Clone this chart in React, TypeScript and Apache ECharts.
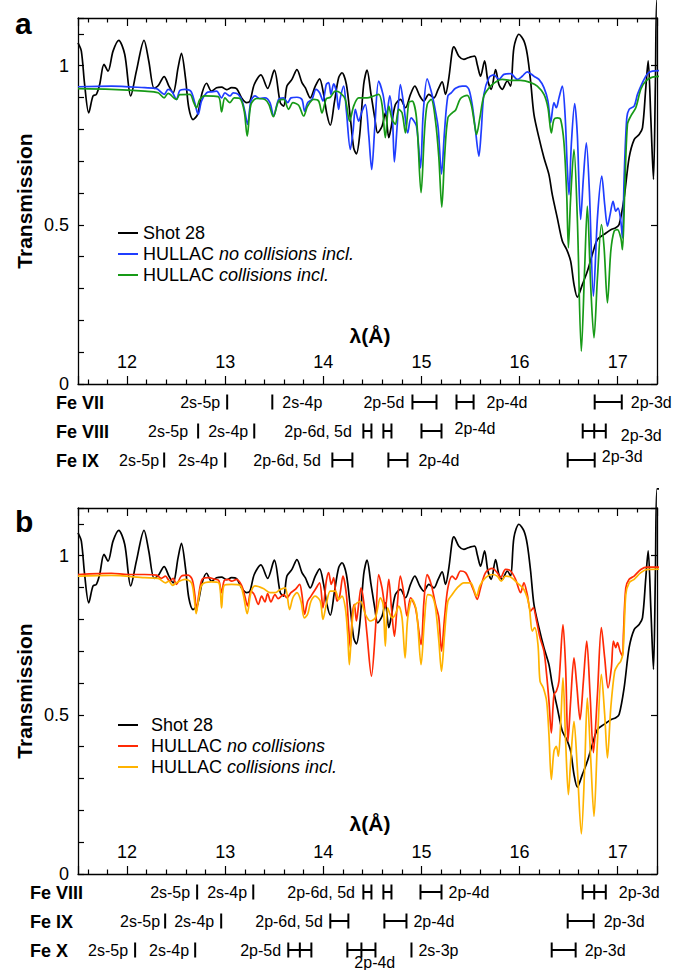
import React, { useEffect, useRef } from "react";
import * as echarts from "echarts";

const FONT = '"Liberation Sans", Arial, Helvetica, sans-serif';

// Axis ranges
const lambdaRange = [11.5, 17.4];
const transRange = [0, 1.15];
const transLabelValues = [0, 0.5, 1];

// ---- Series data: [wavelength (Å), transmission] ----
const shot28 = [[11.5,1.072],[11.534,1.046],[11.568,0.94],[11.609,0.852],[11.653,0.905],[11.687,0.91],[11.72,0.94],[11.765,1.004],[11.806,0.983],[11.857,1.046],[11.915,1.08],[11.976,1.036],[12.037,0.905],[12.095,0.983],[12.173,1.08],[12.221,1.015],[12.276,0.929],[12.316,0.937],[12.378,0.966],[12.425,0.937],[12.469,0.915],[12.52,0.994],[12.554,1.039],[12.595,0.962],[12.629,0.868],[12.673,0.831],[12.718,0.847],[12.765,0.915],[12.81,0.945],[12.86,0.92],[12.912,0.931],[12.963,0.933],[13.014,0.925],[13.065,0.931],[13.116,0.928],[13.167,0.899],[13.218,0.884],[13.252,0.889],[13.296,0.941],[13.364,0.971],[13.432,0.929],[13.5,0.986],[13.561,0.884],[13.595,0.873],[13.629,0.936],[13.68,0.957],[13.731,0.988],[13.782,0.947],[13.816,0.931],[13.867,0.899],[13.918,0.936],[13.962,0.959],[14.003,0.91],[14.037,0.847],[14.071,0.813],[14.112,0.884],[14.156,0.962],[14.19,0.978],[14.235,0.941],[14.275,0.836],[14.309,0.742],[14.337,0.723],[14.371,0.784],[14.411,0.941],[14.445,0.986],[14.486,0.91],[14.524,0.836],[14.554,0.789],[14.598,0.81],[14.632,0.852],[14.667,0.774],[14.69,0.805],[14.734,0.878],[14.785,0.894],[14.837,0.868],[14.888,0.91],[14.932,0.936],[14.983,0.905],[15.024,0.889],[15.075,0.91],[15.126,0.899],[15.17,0.926],[15.211,0.949],[15.245,0.91],[15.279,0.962],[15.313,1.046],[15.33,1.059],[15.381,1.03],[15.432,1.02],[15.475,1.025],[15.541,1.03],[15.568,1.004],[15.602,0.967],[15.643,1.015],[15.677,0.952],[15.711,0.926],[15.755,0.988],[15.789,0.941],[15.823,0.926],[15.874,0.952],[15.908,0.936],[15.942,1.057],[15.993,1.099],[16.044,1.078],[16.078,1.036],[16.112,0.952],[16.146,0.847],[16.197,0.774],[16.248,0.711],[16.299,0.658],[16.333,0.595],[16.384,0.522],[16.435,0.449],[16.48,0.422],[16.52,0.386],[16.554,0.313],[16.588,0.273],[16.64,0.313],[16.69,0.354],[16.741,0.407],[16.793,0.454],[16.861,0.47],[16.929,0.485],[16.98,0.491],[17.014,0.501],[17.065,0.585],[17.116,0.711],[17.167,0.768],[17.218,0.784],[17.252,0.805],[17.286,0.931],[17.31,1.015],[17.337,0.836],[17.364,0.643],[17.384,0.95],[17.4,1.21],[17.43,1.21],[17.45,0.66],[17.47,0.7]];

const hullacNoCollA = [[11.5,0.934],[11.84,0.936],[12.18,0.931],[12.3,0.928],[12.378,0.91],[12.418,0.926],[12.459,0.918],[12.503,0.894],[12.537,0.922],[12.588,0.926],[12.65,0.92],[12.69,0.884],[12.724,0.847],[12.759,0.889],[12.81,0.915],[12.86,0.918],[12.912,0.92],[12.963,0.899],[12.997,0.915],[13.048,0.905],[13.082,0.915],[13.133,0.91],[13.173,0.889],[13.2,0.857],[13.228,0.816],[13.262,0.889],[13.303,0.905],[13.354,0.897],[13.405,0.899],[13.456,0.884],[13.493,0.842],[13.544,0.894],[13.595,0.899],[13.636,0.884],[13.67,0.899],[13.731,0.901],[13.782,0.894],[13.809,0.857],[13.84,0.884],[13.884,0.894],[13.925,0.926],[13.962,0.915],[13.996,0.889],[14.03,0.941],[14.054,0.947],[14.078,0.91],[14.105,0.943],[14.132,0.92],[14.156,0.863],[14.173,0.899],[14.207,0.936],[14.235,0.857],[14.275,0.737],[14.303,0.795],[14.326,0.863],[14.36,0.826],[14.394,0.857],[14.428,0.878],[14.462,0.784],[14.493,0.674],[14.524,0.805],[14.564,0.952],[14.608,0.91],[14.643,0.847],[14.677,0.905],[14.704,0.836],[14.724,0.698],[14.751,0.805],[14.785,0.941],[14.819,0.878],[14.86,0.789],[14.894,0.836],[14.949,0.81],[14.99,0.679],[15.017,0.847],[15.058,0.959],[15.099,0.92],[15.133,0.873],[15.17,0.805],[15.204,0.66],[15.235,0.795],[15.269,0.905],[15.303,0.915],[15.347,0.929],[15.415,0.936],[15.449,0.936],[15.483,0.926],[15.517,0.878],[15.551,0.795],[15.585,0.716],[15.609,0.795],[15.636,0.91],[15.687,0.962],[15.738,0.971],[15.789,0.957],[15.84,0.973],[15.908,0.975],[15.976,0.957],[16.027,0.967],[16.078,0.981],[16.146,0.967],[16.197,0.957],[16.248,0.931],[16.289,0.889],[16.316,0.821],[16.35,0.884],[16.374,0.868],[16.401,0.899],[16.435,0.936],[16.463,0.847],[16.486,0.679],[16.503,0.595],[16.527,0.753],[16.561,0.881],[16.588,0.784],[16.622,0.517],[16.65,0.648],[16.68,0.758],[16.711,0.606],[16.752,0.276],[16.793,0.522],[16.837,0.653],[16.867,0.564],[16.895,0.496],[16.922,0.532],[16.952,0.574],[16.98,0.543],[17.003,0.553],[17.031,0.512],[17.048,0.459],[17.065,0.648],[17.092,0.836],[17.116,0.863],[17.167,0.873],[17.201,0.91],[17.252,0.947],[17.303,0.975],[17.354,0.983],[17.47,0.985]];

const hullacCollA = [[11.5,0.928],[11.84,0.926],[12.18,0.92],[12.316,0.915],[12.378,0.899],[12.418,0.913],[12.503,0.894],[12.537,0.909],[12.64,0.91],[12.68,0.884],[12.707,0.868],[12.741,0.894],[12.793,0.905],[12.929,0.903],[12.963,0.855],[12.997,0.899],[13.048,0.884],[13.092,0.899],[13.15,0.897],[13.194,0.857],[13.224,0.779],[13.262,0.878],[13.32,0.897],[13.405,0.894],[13.446,0.878],[13.49,0.84],[13.544,0.889],[13.595,0.894],[13.646,0.863],[13.69,0.884],[13.748,0.876],[13.799,0.842],[13.84,0.873],[13.901,0.894],[13.952,0.889],[13.986,0.852],[14.03,0.896],[14.071,0.901],[14.122,0.92],[14.173,0.915],[14.224,0.894],[14.268,0.826],[14.309,0.873],[14.36,0.899],[14.445,0.899],[14.513,0.905],[14.564,0.91],[14.598,0.878],[14.632,0.774],[14.667,0.873],[14.701,0.831],[14.734,0.816],[14.768,0.863],[14.802,0.852],[14.837,0.789],[14.871,0.884],[14.905,0.889],[14.949,0.836],[14.996,0.601],[15.03,0.789],[15.058,0.878],[15.099,0.894],[15.143,0.826],[15.177,0.711],[15.207,0.556],[15.235,0.711],[15.269,0.836],[15.313,0.852],[15.347,0.86],[15.398,0.897],[15.466,0.907],[15.507,0.878],[15.541,0.816],[15.561,0.784],[15.595,0.836],[15.636,0.905],[15.704,0.936],[15.772,0.952],[15.823,0.957],[15.908,0.954],[16.01,0.954],[16.112,0.947],[16.18,0.936],[16.248,0.91],[16.289,0.868],[16.323,0.789],[16.35,0.831],[16.384,0.836],[16.418,0.831],[16.452,0.758],[16.48,0.595],[16.497,0.428],[16.52,0.585],[16.554,0.737],[16.588,0.522],[16.629,0.103],[16.663,0.365],[16.69,0.559],[16.724,0.312],[16.758,0.145],[16.793,0.333],[16.834,0.501],[16.861,0.428],[16.895,0.255],[16.929,0.417],[16.963,0.48],[16.997,0.485],[17.031,0.459],[17.048,0.422],[17.071,0.606],[17.099,0.816],[17.133,0.842],[17.184,0.868],[17.235,0.926],[17.286,0.952],[17.354,0.964],[17.47,0.967]];

const hullacNoCollB = [[11.5,0.941],[11.704,0.944],[11.84,0.945],[12.01,0.941],[12.18,0.941],[12.3,0.939],[12.35,0.929],[12.391,0.936],[12.435,0.92],[12.469,0.929],[12.503,0.91],[12.554,0.936],[12.622,0.939],[12.663,0.926],[12.69,0.878],[12.707,0.826],[12.731,0.878],[12.765,0.926],[12.827,0.931],[12.895,0.926],[12.935,0.922],[12.963,0.884],[12.99,0.922],[13.031,0.926],[13.065,0.92],[13.116,0.926],[13.167,0.907],[13.2,0.873],[13.228,0.842],[13.262,0.889],[13.296,0.878],[13.337,0.847],[13.371,0.873],[13.405,0.855],[13.432,0.881],[13.466,0.855],[13.507,0.878],[13.54,0.865],[13.595,0.878],[13.629,0.868],[13.67,0.884],[13.714,0.894],[13.758,0.91],[13.782,0.878],[13.809,0.816],[13.84,0.857],[13.874,0.873],[13.918,0.894],[13.962,0.915],[13.996,0.836],[14.03,0.92],[14.054,0.947],[14.081,0.91],[14.105,0.931],[14.139,0.857],[14.166,0.873],[14.2,0.936],[14.235,0.878],[14.258,0.774],[14.275,0.711],[14.296,0.816],[14.316,0.847],[14.337,0.795],[14.36,0.847],[14.384,0.899],[14.411,0.857],[14.445,0.753],[14.49,0.622],[14.53,0.763],[14.564,0.941],[14.598,0.899],[14.632,0.836],[14.667,0.926],[14.694,0.836],[14.724,0.747],[14.751,0.836],[14.785,0.936],[14.819,0.884],[14.853,0.81],[14.888,0.868],[14.939,0.836],[14.996,0.721],[15.024,0.852],[15.058,0.941],[15.099,0.91],[15.143,0.847],[15.177,0.805],[15.204,0.7],[15.235,0.805],[15.269,0.899],[15.313,0.936],[15.347,0.926],[15.398,0.952],[15.449,0.947],[15.493,0.92],[15.534,0.889],[15.568,0.863],[15.602,0.899],[15.653,0.947],[15.721,0.96],[15.772,0.947],[15.806,0.931],[15.857,0.957],[15.908,0.952],[15.959,0.926],[16.01,0.884],[16.044,0.915],[16.078,0.878],[16.112,0.826],[16.139,0.836],[16.173,0.795],[16.208,0.742],[16.248,0.7],[16.275,0.627],[16.299,0.543],[16.323,0.443],[16.35,0.564],[16.374,0.574],[16.401,0.606],[16.442,0.784],[16.469,0.648],[16.493,0.417],[16.52,0.543],[16.554,0.679],[16.582,0.595],[16.616,0.485],[16.65,0.606],[16.684,0.732],[16.718,0.564],[16.752,0.381],[16.793,0.564],[16.833,0.774],[16.867,0.679],[16.901,0.585],[16.935,0.648],[16.956,0.732],[16.98,0.711],[16.997,0.727],[17.024,0.7],[17.048,0.685],[17.058,0.753],[17.082,0.899],[17.116,0.926],[17.167,0.936],[17.235,0.957],[17.303,0.964],[17.47,0.964]];

const hullacCollB = [[11.5,0.936],[11.84,0.938],[12.18,0.931],[12.316,0.929],[12.391,0.915],[12.425,0.92],[12.463,0.907],[12.503,0.915],[12.588,0.926],[12.656,0.915],[12.684,0.868],[12.704,0.818],[12.731,0.868],[12.765,0.91],[12.86,0.918],[12.935,0.915],[12.963,0.836],[12.99,0.907],[13.065,0.91],[13.15,0.907],[13.184,0.878],[13.224,0.818],[13.262,0.884],[13.303,0.905],[13.388,0.897],[13.456,0.884],[13.51,0.884],[13.561,0.894],[13.612,0.899],[13.656,0.831],[13.69,0.868],[13.731,0.884],[13.772,0.857],[13.806,0.805],[13.84,0.816],[13.874,0.857],[13.918,0.873],[13.969,0.857],[13.996,0.8],[14.03,0.847],[14.071,0.889],[14.122,0.889],[14.156,0.863],[14.19,0.873],[14.224,0.836],[14.248,0.753],[14.265,0.658],[14.286,0.753],[14.316,0.842],[14.377,0.857],[14.428,0.816],[14.479,0.795],[14.53,0.805],[14.581,0.868],[14.609,0.847],[14.632,0.716],[14.656,0.836],[14.701,0.805],[14.734,0.816],[14.768,0.842],[14.802,0.805],[14.833,0.679],[14.86,0.805],[14.905,0.863],[14.949,0.826],[14.996,0.658],[15.03,0.795],[15.064,0.878],[15.109,0.873],[15.143,0.836],[15.177,0.732],[15.204,0.637],[15.235,0.753],[15.269,0.857],[15.313,0.878],[15.364,0.899],[15.432,0.915],[15.5,0.915],[15.534,0.894],[15.561,0.873],[15.595,0.905],[15.653,0.931],[15.721,0.941],[15.772,0.936],[15.813,0.92],[15.857,0.936],[15.908,0.933],[15.976,0.915],[16.044,0.894],[16.095,0.847],[16.129,0.763],[16.153,0.774],[16.187,0.721],[16.208,0.606],[16.241,0.585],[16.275,0.543],[16.299,0.438],[16.323,0.297],[16.35,0.386],[16.374,0.401],[16.395,0.37],[16.418,0.47],[16.442,0.616],[16.469,0.417],[16.497,0.249],[16.52,0.354],[16.554,0.48],[16.588,0.333],[16.629,0.126],[16.663,0.333],[16.69,0.553],[16.724,0.365],[16.758,0.181],[16.793,0.417],[16.833,0.627],[16.867,0.501],[16.895,0.365],[16.929,0.522],[16.969,0.637],[17.003,0.658],[17.031,0.669],[17.054,0.695],[17.082,0.878],[17.116,0.915],[17.167,0.926],[17.235,0.947],[17.303,0.957],[17.47,0.958]];

// ---- Legend entries ----
const legendA = [
  { id: "a-shot", plain: "Shot 28", italic: "" },
  { id: "a-nc", plain: "HULLAC ", italic: "no collisions incl." },
  { id: "a-c", plain: "HULLAC ", italic: "collisions incl." },
];
const legendB = [
  { id: "b-shot", plain: "Shot 28", italic: "" },
  { id: "b-nc", plain: "HULLAC ", italic: "no collisions" },
  { id: "b-c", plain: "HULLAC ", italic: "collisions incl." },
];

// ---- Transition annotations (row, wavelength in Å) ----
const ionsA = ["Fe VII", "Fe VIII", "Fe IX"];
const barsA = [[0, 13.02], [0, 13.48], [1, 12.724], [1, 13.296], [2, 12.378], [2, 13.0]];
const rangesA = [[0, 14.908, 15.153], [0, 15.357, 15.531], [0, 16.765, 17.041], [1, 14.408, 14.49], [1, 14.612, 14.694], [1, 15.0, 15.204], [2, 14.092, 14.296], [2, 14.663, 14.857], [2, 16.49, 16.765]];
const triplesA = [[1, 16.643, 16.878]];
const labelsA: [number, string, number, number][] = [
  [0, "2s-5p", 12.541, 0], [0, "2s-4p", 13.582, 0], [0, "2p-5d", 14.408, 0], [0, "2p-4d", 15.663, 0], [0, "2p-3d", 17.133, 0],
  [1, "2s-5p", 12.214, 0], [1, "2s-4p", 12.827, 0], [1, "2p-6d, 5d", 13.602, 0], [1, "2p-4d", 15.337, -3], [1, "2p-3d", 17.031, 4],
  [2, "2s-5p", 11.918, 0], [2, "2s-4p", 12.52, 0], [2, "2p-6d, 5d", 13.286, 0], [2, "2p-4d", 14.969, 0], [2, "2p-3d", 16.837, -4],
];

const ionsB = ["Fe VIII", "Fe IX", "Fe X"];
const barsB = [[0, 12.714], [0, 13.286], [1, 12.388], [1, 12.959], [2, 12.082], [2, 12.694], [2, 14.898]];
const rangesB = [[0, 14.408, 14.49], [0, 14.612, 14.694], [0, 14.99, 15.204], [1, 14.071, 14.255], [1, 14.622, 14.847], [1, 16.49, 16.755], [2, 16.327, 16.571]];
const triplesB = [[0, 16.643, 16.878], [2, 13.643, 13.878], [2, 14.245, 14.531]];
const labelsB: [number, string, number, number][] = [
  [0, "2s-5p", 12.235, 0], [0, "2s-4p", 12.816, 0], [0, "2p-6d, 5d", 13.633, 0], [0, "2p-4d", 15.276, 0], [0, "2p-3d", 17.01, 0],
  [1, "2s-5p", 11.929, 0], [1, "2s-4p", 12.48, 0], [1, "2p-6d, 5d", 13.306, 0], [1, "2p-4d", 14.918, 0], [1, "2p-3d", 16.857, 0],
  [2, "2s-5p", 11.602, 0], [2, "2s-4p", 12.224, 0], [2, "2p-5d", 13.153, 0], [2, "2p-4d", 14.316, 12], [2, "2s-3p", 14.969, 0], [2, "2p-3d", 16.663, 0],
];

const COLORS = { shot: "#000000", blue: "#1f3dff", green: "#179a17", red: "#ff2a05", orange: "#ffb300" };

function isNear(v: number, t: number) {
  return Math.abs(v - t) < 1e-6;
}

function xAxisCfg(gridIndex: number, position: string, labels: boolean) {
  return {
    type: "value",
    gridIndex,
    position,
    min: lambdaRange[0],
    max: lambdaRange[1],
    axisLine: { show: true, onZero: false, lineStyle: { color: "#000", width: 1.3 } },
    axisTick: { show: true, inside: true, length: 8, lineStyle: { color: "#000", width: 1.2 } },
    minorTick: { show: true, splitNumber: 5, length: 4.5, lineStyle: { color: "#000", width: 1.2 } },
    splitLine: { show: false },
    minorSplitLine: { show: false },
    axisLabel: labels
      ? {
          show: true,
          inside: true,
          margin: 13,
          color: "#000",
          fontSize: 18,
          fontFamily: FONT,
          formatter: (v: number) => (isNear(v, Math.round(v)) ? String(Math.round(v)) : ""),
        }
      : { show: false },
  };
}

function yAxisCfg(gridIndex: number, position: string, labels: boolean) {
  return {
    type: "value",
    gridIndex,
    position,
    min: transRange[0],
    max: transRange[1],
    interval: labels ? 0.1 : 0.5,
    axisLine: { show: true, onZero: false, lineStyle: { color: "#000", width: 1.3 } },
    axisTick: { show: true, inside: true, length: 6, lineStyle: { color: "#000", width: 1.2 } },
    splitLine: { show: false },
    axisLabel: labels
      ? {
          show: true,
          margin: 9,
          color: "#000",
          fontSize: 18,
          lineHeight: 16,
          fontFamily: FONT,
          formatter: (v: number) => {
            const hit = transLabelValues.find((t) => isNear(v, t));
            return hit === undefined ? "" : String(hit);
          },
        }
      : { show: false },
  };
}

function lineSeries(name: string, data: number[][], color: string, axis: number) {
  return {
    type: "line",
    name,
    data,
    xAxisIndex: axis,
    yAxisIndex: axis,
    showSymbol: false,
    symbol: "none",
    smooth: 0.3,
    clip: false,
    lineStyle: { color, width: 1.7 },
    itemStyle: { color },
    emphasis: { disabled: true },
  };
}

function annotationSeries(
  axisIndex: number,
  ions: string[],
  ionX: number,
  bars: number[][],
  ranges: number[][],
  triples: number[][],
  labels: [number, string, number, number][]
) {
  type Item = { kind: string; row: number; a: number; b?: number; text?: string; dy?: number };
  const items: Item[] = [];
  ions.forEach((t, i) => items.push({ kind: "ion", row: i, a: lambdaRange[0], text: t }));
  bars.forEach(([r, a]) => items.push({ kind: "bar", row: r, a }));
  ranges.forEach(([r, a, b]) => items.push({ kind: "range", row: r, a, b }));
  triples.forEach(([r, a, b]) => items.push({ kind: "triple", row: r, a, b }));
  labels.forEach(([r, t, a, dy]) => items.push({ kind: "label", row: r, a, text: t, dy }));
  return {
    type: "custom",
    xAxisIndex: axisIndex,
    yAxisIndex: axisIndex,
    clip: false,
    silent: true,
    data: items.map((it) => [it.a, it.row]),
    renderItem: (params: any, api: any) => {
      const it = items[params.dataIndex];
      const p = api.coord([it.a, it.row]);
      const y = p[1];
      const half = 7.5;
      const ls = { stroke: "#000", lineWidth: 2 };
      const vline = (x: number) => ({ type: "line", shape: { x1: x, y1: y - half, x2: x, y2: y + half }, style: ls });
      if (it.kind === "ion") {
        return {
          type: "text",
          x: ionX,
          y: y + 1,
          style: { text: it.text, font: `bold 18px ${FONT}`, lineHeight: 15, fill: "#000", align: "left", verticalAlign: "middle" },
        };
      }
      if (it.kind === "label") {
        return {
          type: "text",
          x: p[0],
          y: y + (it.dy || 0),
          style: { text: it.text, font: `16px ${FONT}`, lineHeight: 14, fill: "#000", align: "left", verticalAlign: "middle" },
        };
      }
      if (it.kind === "bar") return vline(p[0]);
      const x2 = api.coord([it.b, it.row])[0];
      const children: any[] = [
        { type: "line", shape: { x1: p[0], y1: y, x2, y2: y }, style: ls },
        vline(p[0]),
        vline(x2),
      ];
      if (it.kind === "triple") children.push(vline((p[0] + x2) / 2));
      return { type: "group", children };
    },
  };
}

function legendCfg(entries: { id: string; plain: string; italic: string }[], left: number, top: number, pad: number) {
  return {
    show: true,
    orient: "vertical",
    left,
    top,
    icon: "rect",
    itemWidth: 20,
    itemHeight: 2,
    itemGap: 3,
    selectedMode: false,
    data: entries.map((e) => e.id),
    formatter: (name: string) => {
      const e = entries.find((x) => x.id === name)!;
      return e.italic ? `{n|${e.plain}}{i|${e.italic}}` : `{n|${e.plain}}`;
    },
    textStyle: {
      fontSize: 18,
      fontFamily: FONT,
      color: "#000",
      rich: {
        n: { fontSize: 18, fontFamily: FONT, color: "#000", padding: [0, 0, 0, pad] },
        i: { fontSize: 18, fontFamily: FONT, color: "#000", fontStyle: "italic" },
      },
    },
  };
}

export default function App() {
  const ref = useRef<HTMLDivElement>(null);

  useEffect(() => {
    document.body.style.margin = "0";
    if (!ref.current) return;
    const chart = echarts.init(ref.current, undefined, { renderer: "svg" });

    const gridW = 579;
    const option: any = {
      animation: false,
      backgroundColor: "#fff",
      tooltip: { show: false },
      grid: [
        { left: 78, top: 18, width: gridW, height: 366 },
        { left: 78, top: 508, width: gridW, height: 366 },
        { left: 78, top: 387.5, width: gridW, height: 87 },
        { left: 78, top: 877.5, width: gridW, height: 87 },
      ],
      xAxis: [
        xAxisCfg(0, "bottom", true),
        xAxisCfg(1, "bottom", true),
        { type: "value", gridIndex: 2, min: lambdaRange[0], max: lambdaRange[1], show: false },
        { type: "value", gridIndex: 3, min: lambdaRange[0], max: lambdaRange[1], show: false },
        xAxisCfg(0, "top", false),
        xAxisCfg(1, "top", false),
      ],
      yAxis: [
        yAxisCfg(0, "left", true),
        yAxisCfg(1, "left", true),
        { type: "value", gridIndex: 2, min: -0.5, max: 2.5, inverse: true, show: false },
        { type: "value", gridIndex: 3, min: -0.5, max: 2.5, inverse: true, show: false },
        yAxisCfg(0, "right", false),
        yAxisCfg(1, "right", false),
      ],
      legend: [legendCfg(legendA, 113, 219, 0), legendCfg(legendB, 113, 711, 8)],
      series: [
        lineSeries("a-shot", shot28, COLORS.shot, 0),
        lineSeries("a-nc", hullacNoCollA, COLORS.blue, 0),
        lineSeries("a-c", hullacCollA, COLORS.green, 0),
        lineSeries("b-shot", shot28, COLORS.shot, 1),
        lineSeries("b-nc", hullacNoCollB, COLORS.red, 1),
        lineSeries("b-c", hullacCollB, COLORS.orange, 1),
        annotationSeries(2, ionsA, 56, barsA, rangesA, triplesA, labelsA),
        annotationSeries(3, ionsB, 30, barsB, rangesB, triplesB, labelsB),
      ],
      graphic: [
        { type: "text", x: 15, y: 23, style: { text: "a", font: `bold 30px ${FONT}`, fill: "#000", align: "left", verticalAlign: "middle" } },
        { type: "text", x: 15, y: 521, style: { text: "b", font: `bold 30px ${FONT}`, fill: "#000", align: "left", verticalAlign: "middle" } },
        { type: "text", x: 24, y: 201, rotation: Math.PI / 2, style: { text: "Transmission", font: `bold 21px ${FONT}`, fill: "#000", align: "center", verticalAlign: "middle" } },
        { type: "text", x: 24, y: 691, rotation: Math.PI / 2, style: { text: "Transmission", font: `bold 21px ${FONT}`, fill: "#000", align: "center", verticalAlign: "middle" } },
        { type: "text", x: 370, y: 335, style: { text: "λ(Å)", font: `bold 21px ${FONT}`, fill: "#000", align: "center", verticalAlign: "middle" } },
        { type: "text", x: 370, y: 823, style: { text: "λ(Å)", font: `bold 21px ${FONT}`, fill: "#000", align: "center", verticalAlign: "middle" } },
      ],
    };
    chart.setOption(option);
    return () => chart.dispose();
  }, []);

  return <div ref={ref} style={{ width: 674, height: 970 }} />;
}
